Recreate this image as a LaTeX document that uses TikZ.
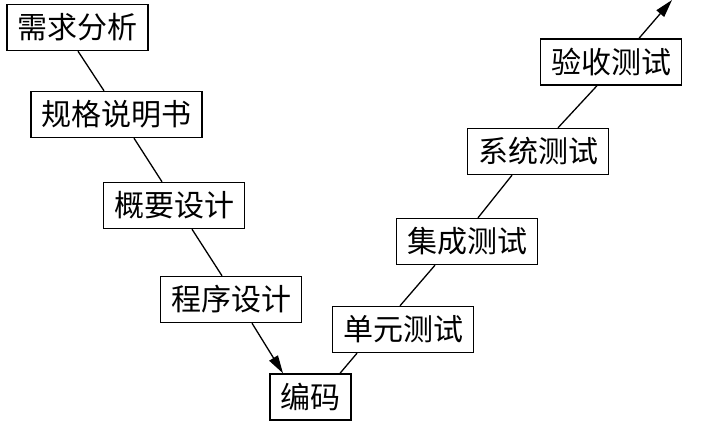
\documentclass[tikz,border=0pt]{standalone}
\usepackage{fontspec}
\setmainfont{Noto Sans CJK SC}
\usetikzlibrary{arrows.meta}
\begin{document}
\begin{tikzpicture}[x=1pt,y=-1pt,
  stage/.style={draw,line width=1.4pt,inner xsep=10.5pt,inner ysep=0pt,minimum height=46pt,
    font=\fontsize{30}{32}\selectfont},
  link/.style={line width=1.3pt},
  tip/.style={line width=1.3pt,-{Stealth[length=18pt,width=10pt,inset=0pt]}}]
\useasboundingbox (0,0) rectangle (712,423);
\node[stage] (a) at (77.5,27.5) {需求分析};
\node[stage] (b) at (116.5,114.5) {规格说明书};
\node[stage] (c) at (174,205.5) {概要设计};
\node[stage] (d) at (231,299.5) {程序设计};
\node[stage] (e) at (310.5,397) {编码};
\node[stage] (f) at (403,329.5) {单元测试};
\node[stage] (g) at (467,241.5) {集成测试};
\node[stage] (h) at (538,151.5) {系统测试};
\node[stage] (i) at (611,62) {验收测试};
\coordinate (top) at (672,0);
\draw[link] ([xshift=0.5pt]a.south) -- ([xshift=-12.5pt]b.north);
\draw[link] ([xshift=17.5pt]b.south) -- ([xshift=-12pt]c.north);
\draw[link] ([xshift=18pt]c.south) -- ([xshift=-9pt]d.north);
\draw[tip] ([xshift=21pt]d.south) -- ([xshift=-27.5pt]e.north);
\draw[link] ([xshift=29.5pt]e.north) -- ([xshift=-46pt]f.south);
\draw[link] ([xshift=-3pt]f.north) -- ([xshift=-32pt]g.south);
\draw[link] ([xshift=11pt]g.north) -- ([xshift=-26pt]h.south);
\draw[link] ([xshift=20pt]h.north) -- ([xshift=-14pt]i.south);
\draw[tip] ([xshift=28pt]i.north) -- (top);
\end{tikzpicture}
\end{document}
